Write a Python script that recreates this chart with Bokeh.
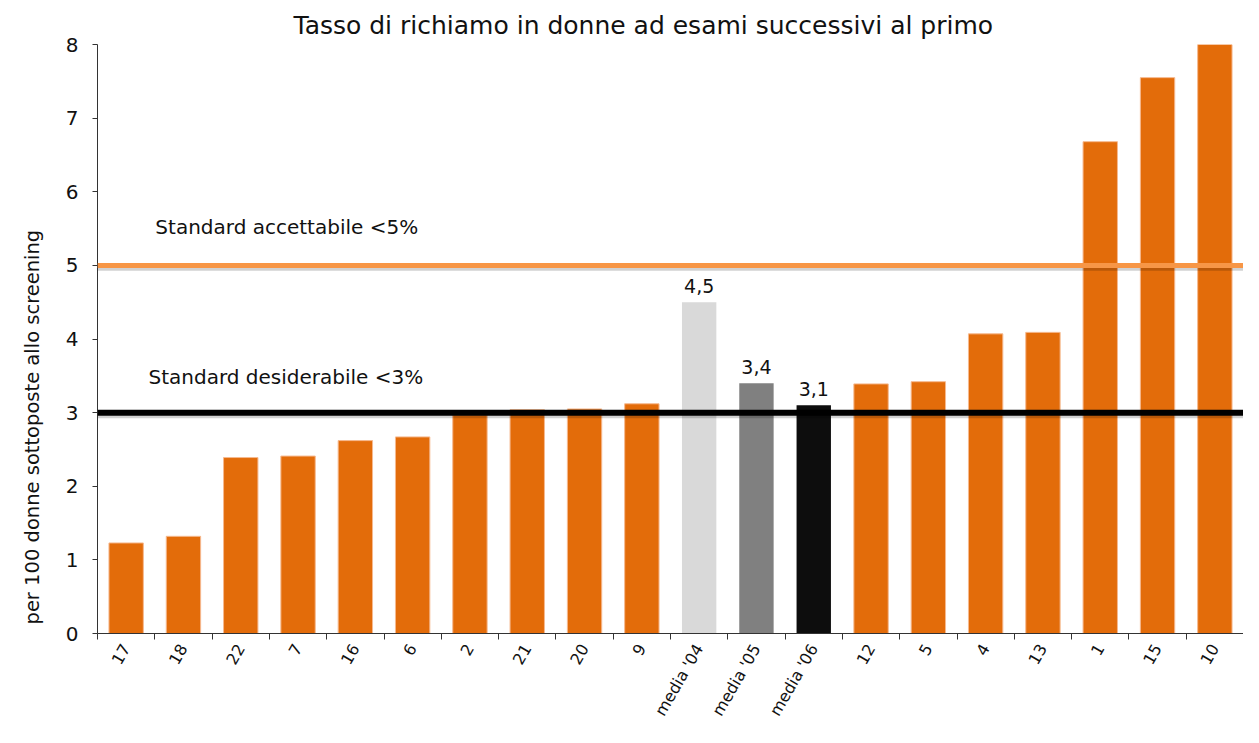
import math
from bokeh.plotting import figure
from bokeh.models import (ColumnDataSource, FixedTicker, Span, Label, Range1d, LinearAxis, Title)
from bokeh.core.properties import value
from bokeh.embed import file_html
from bokeh.resources import INLINE

categories = ["17", "18", "22", "7", "16", "6", "2", "21", "20", "9",
              "media '04", "media '05", "media '06",
              "12", "5", "4", "13", "1", "15", "10"]
rates = [1.23, 1.32, 2.39, 2.41, 2.62, 2.67, 2.97, 3.04, 3.05, 3.12,
         4.5, 3.4, 3.1,
         3.39, 3.42, 4.07, 4.09, 6.68, 7.55, 8.0]
bar_colors = ["#E36C0A"] * 10 + ["#D9D9D9", "#808080", "#0D0D0D"] + ["#E36C0A"] * 7
bar_edges = ["#F6B98F"] * 10 + [None, None, None] + ["#F6B98F"] * 7
averages = ["media '04", "media '05", "media '06"]
y_ticks = [0, 1, 2, 3, 4, 5, 6, 7, 8]
standard_accettabile = 5
standard_desiderabile = 3

FONT = "DejaVu Sans"
TXT = "#111111"

xs = [i + 0.5 for i in range(len(categories))]
src = ColumnDataSource(dict(x=xs, top=rates, color=bar_colors, edge=bar_edges))

p = figure(width=1243, height=727, output_backend="svg", toolbar_location=None,
           x_range=Range1d(0, len(categories)), y_range=Range1d(0, 8),
           min_border_left=97, min_border_top=44, min_border_right=0, min_border_bottom=93,
           x_axis_location=None, y_axis_location=None)
p.outline_line_color = None
p.xgrid.visible = False
p.ygrid.visible = False

p.title.text = "Tasso di richiamo in donne ad esami successivi al primo"
p.title.align = "left"
p.title.offset = 196
p.title.text_font = FONT
p.title.text_font_size = "25px"
p.title.text_font_style = "normal"
p.title.text_color = TXT

p.vbar(x="x", top="top", width=0.6, fill_color="color", line_color="edge",
       line_width=1, source=src)

# reference lines (with a soft shadow like the original)
p.add_layout(Span(location=standard_accettabile - 0.045, dimension="width",
                  line_color="#000000", line_alpha=0.18, line_width=4))
p.add_layout(Span(location=standard_accettabile, dimension="width",
                  line_color="#F79646", line_width=5))
p.add_layout(Span(location=standard_desiderabile - 0.05, dimension="width",
                  line_color="#000000", line_alpha=0.18, line_width=4))
p.add_layout(Span(location=standard_desiderabile, dimension="width",
                  line_color="#000000", line_width=6))

p.add_layout(Label(x=1.01, y=5.52, text="Standard accettabile <5%",
                   text_font=FONT, text_font_size="20px", text_baseline="middle",
                   text_color=TXT))
p.add_layout(Label(x=0.89, y=3.48, text="Standard desiderabile <3%",
                   text_font=FONT, text_font_size="20px", text_baseline="middle",
                   text_color=TXT))

# value labels for the averages
avg_idx = [categories.index(a) for a in averages]
vsrc = ColumnDataSource(dict(
    x=[xs[i] for i in avg_idx],
    y=[rates[i] for i in avg_idx],
    t=[("%.1f" % rates[i]).replace(".", ",") for i in avg_idx]))
p.text(x="x", y="y", text="t", source=vsrc, text_font=value(FONT),
       text_font_size="19px", text_align="center", text_baseline="bottom",
       y_offset=-9, text_color=TXT)

# y axis
yaxis = LinearAxis(ticker=FixedTicker(ticks=y_ticks))
yaxis.axis_line_color = "#333333"
yaxis.major_tick_line_color = "#333333"
yaxis.major_tick_out = 5
yaxis.major_tick_in = 0
yaxis.minor_tick_line_color = None
yaxis.major_label_text_font = FONT
yaxis.major_label_text_font_size = "20px"
yaxis.major_label_text_color = TXT
yaxis.major_label_standoff = 14
p.add_layout(yaxis, "left")

# y axis title, placed like the original (starting near the bottom of the plot)
ytitle = Title(text="per 100 donne sottoposte allo screening", align="left", offset=9,
               vertical_align="top",
               text_font=FONT, text_font_size="19.5px", text_font_style="normal",
               text_color=TXT)
if "standoff" in Title.properties():
    ytitle.standoff = 34
p.add_layout(ytitle, "left")

# x axis: labels at category centers, ticks at category boundaries
xaxis = LinearAxis(ticker=FixedTicker(ticks=xs, minor_ticks=list(range(len(categories) + 1))))
xaxis.major_label_overrides = {x: c for x, c in zip(xs, categories)}
xaxis.axis_line_color = "#333333"
xaxis.major_tick_line_color = None
xaxis.minor_tick_line_color = "#333333"
xaxis.minor_tick_out = 6
xaxis.minor_tick_in = 0
xaxis.major_label_orientation = math.pi / 3
xaxis.major_label_text_font = FONT
xaxis.major_label_text_font_size = "16px"
xaxis.major_label_text_color = TXT
xaxis.major_label_standoff = 6
p.add_layout(xaxis, "below")

open("out.html", "w").write(file_html(p, INLINE))
